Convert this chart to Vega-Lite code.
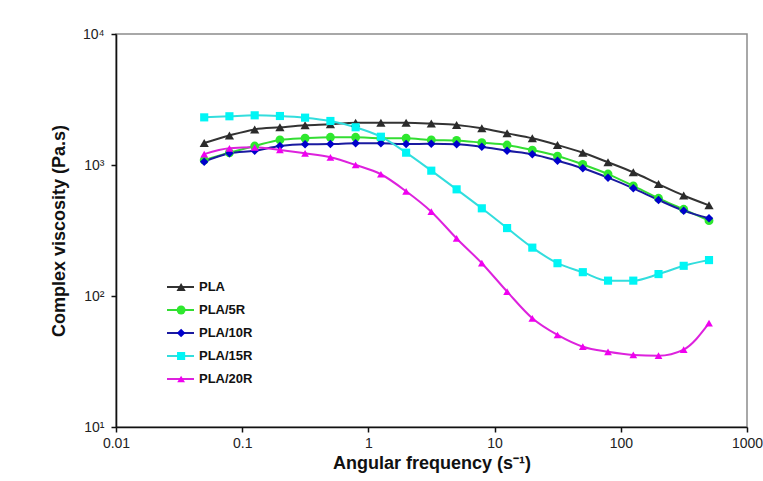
{
  "$schema": "https://vega.github.io/schema/vega-lite/v6.json",
  "width": 631,
  "height": 393,
  "autosize": {"type": "none"},
  "padding": {"left": 116, "top": 34, "right": 16, "bottom": 54},
  "background": "white",
  "config": {
    "view": {"stroke": "#8c8c8c", "strokeWidth": 1.5},
    "font": "Liberation Sans",
    "axis": {"grid": false, "domainColor": "#111", "domainWidth": 1.6, "tickColor": "#111", "tickWidth": 1.5, "tickSize": 5, "labelColor": "#222", "labelFont": "Liberation Sans", "labelFontSize": 14, "titleFont": "Liberation Sans", "titleFontSize": 18, "titleFontWeight": "bold", "titleColor": "#111"}
  },
  "data": {
    "values": [
      {"w": 0.05, "eta": 1470, "s": "PLA"}, {"w": 0.0792, "eta": 1680, "s": "PLA"}, {"w": 0.1256, "eta": 1870, "s": "PLA"}, {"w": 0.199, "eta": 1940, "s": "PLA"}, {"w": 0.315, "eta": 2010, "s": "PLA"}, {"w": 0.5, "eta": 2045, "s": "PLA"}, {"w": 0.792, "eta": 2100, "s": "PLA"}, {"w": 1.256, "eta": 2100, "s": "PLA"}, {"w": 1.99, "eta": 2100, "s": "PLA"}, {"w": 3.15, "eta": 2070, "s": "PLA"}, {"w": 5, "eta": 2020, "s": "PLA"}, {"w": 7.92, "eta": 1905, "s": "PLA"}, {"w": 12.56, "eta": 1745, "s": "PLA"}, {"w": 19.9, "eta": 1600, "s": "PLA"}, {"w": 31.5, "eta": 1420, "s": "PLA"}, {"w": 50, "eta": 1240, "s": "PLA"}, {"w": 79.2, "eta": 1050, "s": "PLA"}, {"w": 125.6, "eta": 880, "s": "PLA"}, {"w": 199, "eta": 715, "s": "PLA"}, {"w": 315, "eta": 585, "s": "PLA"}, {"w": 500, "eta": 492, "s": "PLA"},
      {"w": 0.05, "eta": 1090, "s": "PLA/5R"}, {"w": 0.0792, "eta": 1240, "s": "PLA/5R"}, {"w": 0.1256, "eta": 1396, "s": "PLA/5R"}, {"w": 0.199, "eta": 1553, "s": "PLA/5R"}, {"w": 0.315, "eta": 1600, "s": "PLA/5R"}, {"w": 0.5, "eta": 1627, "s": "PLA/5R"}, {"w": 0.792, "eta": 1627, "s": "PLA/5R"}, {"w": 1.256, "eta": 1600, "s": "PLA/5R"}, {"w": 1.99, "eta": 1600, "s": "PLA/5R"}, {"w": 3.15, "eta": 1553, "s": "PLA/5R"}, {"w": 5, "eta": 1540, "s": "PLA/5R"}, {"w": 7.92, "eta": 1480, "s": "PLA/5R"}, {"w": 12.56, "eta": 1420, "s": "PLA/5R"}, {"w": 19.9, "eta": 1300, "s": "PLA/5R"}, {"w": 31.5, "eta": 1170, "s": "PLA/5R"}, {"w": 50, "eta": 1010, "s": "PLA/5R"}, {"w": 79.2, "eta": 853, "s": "PLA/5R"}, {"w": 125.6, "eta": 692, "s": "PLA/5R"}, {"w": 199, "eta": 557, "s": "PLA/5R"}, {"w": 315, "eta": 459, "s": "PLA/5R"}, {"w": 500, "eta": 376, "s": "PLA/5R"},
      {"w": 0.05, "eta": 1060, "s": "PLA/10R"}, {"w": 0.0792, "eta": 1228, "s": "PLA/10R"}, {"w": 0.1256, "eta": 1285, "s": "PLA/10R"}, {"w": 0.199, "eta": 1396, "s": "PLA/10R"}, {"w": 0.315, "eta": 1440, "s": "PLA/10R"}, {"w": 0.5, "eta": 1445, "s": "PLA/10R"}, {"w": 0.792, "eta": 1466, "s": "PLA/10R"}, {"w": 1.256, "eta": 1466, "s": "PLA/10R"}, {"w": 1.99, "eta": 1445, "s": "PLA/10R"}, {"w": 3.15, "eta": 1450, "s": "PLA/10R"}, {"w": 5, "eta": 1440, "s": "PLA/10R"}, {"w": 7.92, "eta": 1380, "s": "PLA/10R"}, {"w": 12.56, "eta": 1285, "s": "PLA/10R"}, {"w": 19.9, "eta": 1208, "s": "PLA/10R"}, {"w": 31.5, "eta": 1079, "s": "PLA/10R"}, {"w": 50, "eta": 944, "s": "PLA/10R"}, {"w": 79.2, "eta": 800, "s": "PLA/10R"}, {"w": 125.6, "eta": 664, "s": "PLA/10R"}, {"w": 199, "eta": 541, "s": "PLA/10R"}, {"w": 315, "eta": 448, "s": "PLA/10R"}, {"w": 500, "eta": 392, "s": "PLA/10R"},
      {"w": 0.05, "eta": 2310, "s": "PLA/15R"}, {"w": 0.0792, "eta": 2355, "s": "PLA/15R"}, {"w": 0.1256, "eta": 2395, "s": "PLA/15R"}, {"w": 0.199, "eta": 2366, "s": "PLA/15R"}, {"w": 0.315, "eta": 2298, "s": "PLA/15R"}, {"w": 0.5, "eta": 2168, "s": "PLA/15R"}, {"w": 0.792, "eta": 1941, "s": "PLA/15R"}, {"w": 1.256, "eta": 1644, "s": "PLA/15R"}, {"w": 1.99, "eta": 1242, "s": "PLA/15R"}, {"w": 3.15, "eta": 905, "s": "PLA/15R"}, {"w": 5, "eta": 652, "s": "PLA/15R"}, {"w": 7.92, "eta": 467, "s": "PLA/15R"}, {"w": 12.56, "eta": 330, "s": "PLA/15R"}, {"w": 19.9, "eta": 234, "s": "PLA/15R"}, {"w": 31.5, "eta": 178, "s": "PLA/15R"}, {"w": 50, "eta": 152, "s": "PLA/15R"}, {"w": 79.2, "eta": 131, "s": "PLA/15R"}, {"w": 125.6, "eta": 131, "s": "PLA/15R"}, {"w": 199, "eta": 147, "s": "PLA/15R"}, {"w": 315, "eta": 170, "s": "PLA/15R"}, {"w": 500, "eta": 188, "s": "PLA/15R"},
      {"w": 0.05, "eta": 1210, "s": "PLA/20R"}, {"w": 0.0792, "eta": 1340, "s": "PLA/20R"}, {"w": 0.1256, "eta": 1365, "s": "PLA/20R"}, {"w": 0.199, "eta": 1303, "s": "PLA/20R"}, {"w": 0.315, "eta": 1228, "s": "PLA/20R"}, {"w": 0.5, "eta": 1145, "s": "PLA/20R"}, {"w": 0.792, "eta": 1000, "s": "PLA/20R"}, {"w": 1.256, "eta": 850, "s": "PLA/20R"}, {"w": 1.99, "eta": 630, "s": "PLA/20R"}, {"w": 3.15, "eta": 440, "s": "PLA/20R"}, {"w": 5, "eta": 275, "s": "PLA/20R"}, {"w": 7.92, "eta": 178, "s": "PLA/20R"}, {"w": 12.56, "eta": 108, "s": "PLA/20R"}, {"w": 19.9, "eta": 67.6, "s": "PLA/20R"}, {"w": 31.5, "eta": 50.4, "s": "PLA/20R"}, {"w": 50, "eta": 41, "s": "PLA/20R"}, {"w": 79.2, "eta": 37.5, "s": "PLA/20R"}, {"w": 125.6, "eta": 35.5, "s": "PLA/20R"}, {"w": 199, "eta": 35, "s": "PLA/20R"}, {"w": 315, "eta": 39, "s": "PLA/20R"}, {"w": 500, "eta": 62, "s": "PLA/20R"}
    ]
  },
  "encoding": {
    "x": {
      "field": "w", "type": "quantitative",
      "scale": {"type": "log", "domain": [0.01, 1000]},
      "axis": {"values": [0.01, 0.1, 1, 10, 100, 1000], "format": "~g", "labelPadding": 4, "labelFlush": false, "title": "Angular frequency (s⁻¹)", "titlePadding": 4}
    },
    "y": {
      "field": "eta", "type": "quantitative",
      "scale": {"type": "log", "domain": [10, 10000]},
      "axis": {"values": [10, 100, 1000, 10000], "labelExpr": "datum.value == 10 ? '10¹' : datum.value == 100 ? '10²' : datum.value == 1000 ? '10³' : '10⁴'", "labelPadding": 7, "labelFlush": false, "title": "Complex viscosity (Pa.s)", "titlePadding": 14}
    }
  },
  "layer": [
    {
      "mark": {"type": "line", "interpolate": "monotone", "strokeWidth": 2},
      "encoding": {
        "stroke": {
          "field": "s", "type": "nominal",
          "scale": {"domain": ["PLA", "PLA/5R", "PLA/10R", "PLA/15R", "PLA/20R", "none"], "range": ["#333333", "#33dd33", "#1a1aa0", "#33dddd", "#dd22dd", "#ffffff"]},
          "legend": {"orient": "none", "legendX": 50, "legendY": 245, "title": null, "values": ["PLA", "PLA/5R", "PLA/10R", "PLA/15R", "PLA/20R"], "symbolType": "stroke", "symbolSize": 729, "symbolStrokeWidth": 2, "labelColor": "#111", "labelFontWeight": "bold", "labelOffset": 4, "clipHeight": 16, "rowPadding": 7, "labelFontSize": 13}
        }
      }
    },
    {
      "mark": {"type": "point", "filled": true, "opacity": 1},
      "encoding": {
        "fill": {
          "field": "s", "type": "nominal",
          "scale": {"domain": ["PLA", "PLA/5R", "PLA/10R", "PLA/15R", "PLA/20R"], "range": ["#2b2b2b", "#2ee82e", "#0000cc", "#00f5f5", "#f000f0"]},
          "legend": {"orient": "none", "legendX": 58.6, "legendY": 245, "title": null, "symbolStrokeWidth": 0, "clipHeight": 16, "rowPadding": 7, "labelFontSize": 13, "labelFontWeight": "bold", "labelColor": "transparent"}
        },
        "shape": {
          "field": "s", "type": "nominal",
          "scale": {"domain": ["PLA", "PLA/5R", "PLA/10R", "PLA/15R", "PLA/20R"], "range": ["triangle-up", "circle", "diamond", "square", "triangle-up"]}
        },
        "size": {
          "field": "s", "type": "nominal",
          "scale": {"domain": ["PLA", "PLA/5R", "PLA/10R", "PLA/15R", "PLA/20R"], "range": [85, 60, 65, 95, 85]}
        }
      }
    }
  ]
}
